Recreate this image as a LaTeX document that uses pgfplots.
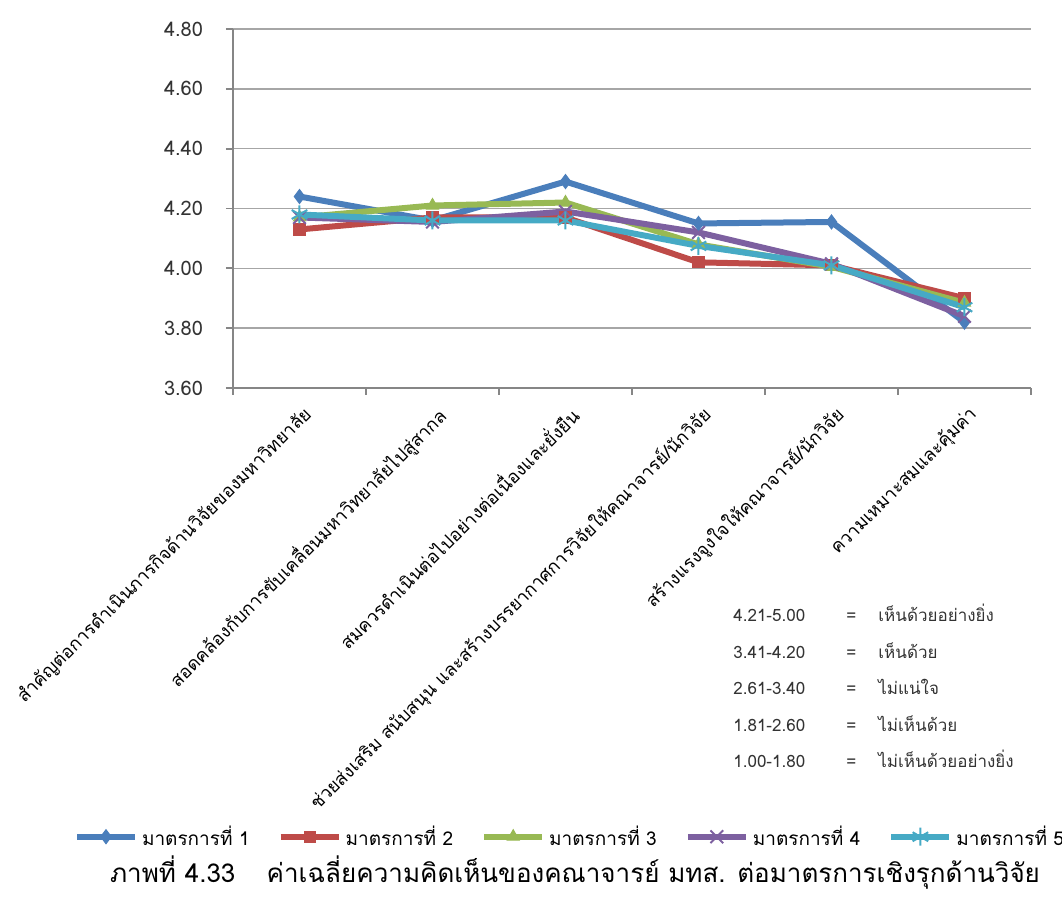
\documentclass[border=0pt]{standalone}
\usepackage{pgfplots}
\pgfplotsset{compat=1.18}
\usepackage{fontspec}
\setmainfont{Loma}[Script=Thai]
\definecolor{s1}{HTML}{4A7EBB}
\definecolor{s2}{HTML}{BE4B48}
\definecolor{s3}{HTML}{98B954}
\definecolor{s4}{HTML}{7D60A0}
\definecolor{s5}{HTML}{46AAC5}
\definecolor{gridc}{HTML}{A6A6A6}
\definecolor{axc}{HTML}{868686}
\begin{document}
\begin{tikzpicture}
\path[use as bounding box] (-116.5pt,-254.5pt) rectangle (414.5pt,194pt);
\begin{axis}[
  at={(0pt,0pt)}, anchor=south west, scale only axis,
  width=399pt, height=179.5pt,
  xmin=-0.5, xmax=5.5, ymin=3.6, ymax=4.8,
  axis x line*=bottom, axis y line*=left,
  axis line style={draw=axc, line width=0.9pt},
  every tick/.style={draw=axc, line width=0.9pt},
  tick align=outside, major tick length=3.5pt,
  xtick={-0.5,0.5,1.5,2.5,3.5,4.5,5.5}, xticklabels={},
  extra x ticks={0,1,2,3,4,5},
  extra x tick labels={%
    สำคัญต่อการดำเนินภารกิจด้านวิจัยของมหาวิทยาลัย,
    สอดคล้องกับการขับเคลื่อนมหาวิทยาลัยไปสู่สากล,
    สมควรดำเนินต่อไปอย่างต่อเนื่องและยั่งยืน,
    ช่วยส่งเสริม สนับสนุน และสร้างบรรยากาศการวิจัยให้คณาจารย์/นักวิจัย,
    สร้างแรงจูงใจให้คณาจารย์/นักวิจัย,
    ความเหมาะสมและคุ้มค่า},
  extra x tick style={major tick length=0pt, grid=none,
    xticklabel style={rotate=45, anchor=north east, inner sep=1pt, yshift=-5.5pt, xshift=-4pt,
      font=\fontsize{9.1}{11}\selectfont}},
  ytick={3.6,3.8,4.0,4.2,4.4,4.6,4.8},
  yticklabel style={/pgf/number format/fixed, /pgf/number format/fixed zerofill,
    /pgf/number format/precision=2, /pgf/number format/assume math mode=true,
    font=\fontsize{10}{12}\selectfont, text=black!80, xshift=-8pt},
  ymajorgrids, xmajorgrids=false,
  major grid style={draw=gridc, line width=0.8pt},
  clip=false,
  legend columns=5,
  legend style={draw=none, fill=none, at={(0.4236,-1.25)}, anchor=center,
    font=\fontsize{9.5}{11}\selectfont, inner sep=0pt,
    /tikz/every even column/.append style={column sep=12pt}},
  legend image code/.code={\draw[mark repeat=2, mark phase=2] plot coordinates {(0pt,0pt) (14.5pt,0pt) (29pt,0pt)};},
  every axis plot/.append style={line width=3pt},
]
\addplot[color=s1, mark=diamond*, mark size=3.5pt, mark options={solid, line width=0.5pt}] coordinates
  {(0,4.24) (1,4.16) (2,4.29) (3,4.15) (4,4.155) (5,3.82)};
\addplot[color=s2, mark=square*, mark size=2.8pt, mark options={solid, line width=0.5pt}] coordinates
  {(0,4.13) (1,4.17) (2,4.17) (3,4.02) (4,4.01) (5,3.90)};
\addplot[color=s3, mark=triangle*, mark size=3.5pt, mark options={solid, line width=0.5pt}] coordinates
  {(0,4.17) (1,4.21) (2,4.22) (3,4.08) (4,4.005) (5,3.885)};
\addplot[color=s4, mark=x, mark size=4.5pt, mark options={solid, line width=1pt}] coordinates
  {(0,4.17) (1,4.155) (2,4.19) (3,4.12) (4,4.015) (5,3.84)};
\addplot[color=s5, mark=asterisk, mark size=4.5pt, mark options={solid, line width=1pt}] coordinates
  {(0,4.18) (1,4.16) (2,4.16) (3,4.075) (4,4.01) (5,3.87)};
\legend{มาตรการที่ 1, มาตรการที่ 2, มาตรการที่ 3, มาตรการที่ 4, มาตรการที่ 5}
\end{axis}
\begin{scope}[every node/.style={font=\fontsize{8.5}{10}\selectfont, anchor=base west, inner sep=0pt, text=black!80}]
\node at (250pt,-117pt) {4.21-5.00};
\node at (306.5pt,-117pt) {=};
\node at (322.5pt,-117pt) {เห็นด้วยอย่างยิ่ง};
\node at (250pt,-135.2pt) {3.41-4.20};
\node at (306.5pt,-135.2pt) {=};
\node at (322.5pt,-135.2pt) {เห็นด้วย};
\node at (250pt,-153.5pt) {2.61-3.40};
\node at (306.5pt,-153.5pt) {=};
\node at (322.5pt,-153.5pt) {ไม่แน่ใจ};
\node at (250pt,-171.7pt) {1.81-2.60};
\node at (306.5pt,-171.7pt) {=};
\node at (322.5pt,-171.7pt) {ไม่เห็นด้วย};
\node at (250pt,-189.7pt) {1.00-1.80};
\node at (306.5pt,-189.7pt) {=};
\node at (322.5pt,-189.7pt) {ไม่เห็นด้วยอย่างยิ่ง};
\end{scope}
\node[font=\fontsize{13}{15}\selectfont, anchor=center, inner sep=0pt] at (171pt,-242.5pt)
  {ภาพที่ 4.33\hspace{1.2em}ค่าเฉลี่ยความคิดเห็นของคณาจารย์ มทส. ต่อมาตรการเชิงรุกด้านวิจัย};
\end{tikzpicture}
\end{document}
